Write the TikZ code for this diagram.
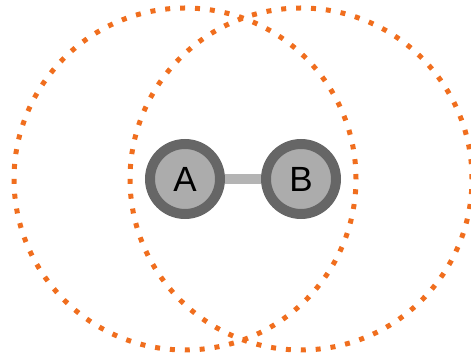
\documentclass[tikz,border=0pt]{standalone}
\usepackage{fontspec}
\setmainfont{Liberation Sans}
\definecolor{rangeorange}{RGB}{240,110,30}
\definecolor{ringgray}{RGB}{102,102,102}
\definecolor{fillgray}{RGB}{172,172,172}
\definecolor{linkgray}{RGB}{180,180,180}
\tikzset{
  x=1pt, y=1pt,
  station/.style={circle, draw=ringgray, line width=10pt, fill=fillgray,
    minimum size=70pt, inner sep=0pt, font=\fontsize{35}{35}\selectfont},
  link/.style={draw=linkgray, line width=10pt},
  rangering/.style={draw=rangeorange, line width=5pt,
    dash pattern=on 5pt off 9.92pt}
}
\begin{document}
\begin{tikzpicture}
\useasboundingbox (0,0) rectangle (471,358);
% coverage ranges of the two stations
\draw[rangering] (185,179) circle[radius=171];
\draw[rangering] (301,179) circle[radius=171];
% stations and their link
\node[station] (a) at (185,179) {A};
\node[station] (b) at (301,179) {B};
\draw[link] (a) -- (b);
\end{tikzpicture}
\end{document}
